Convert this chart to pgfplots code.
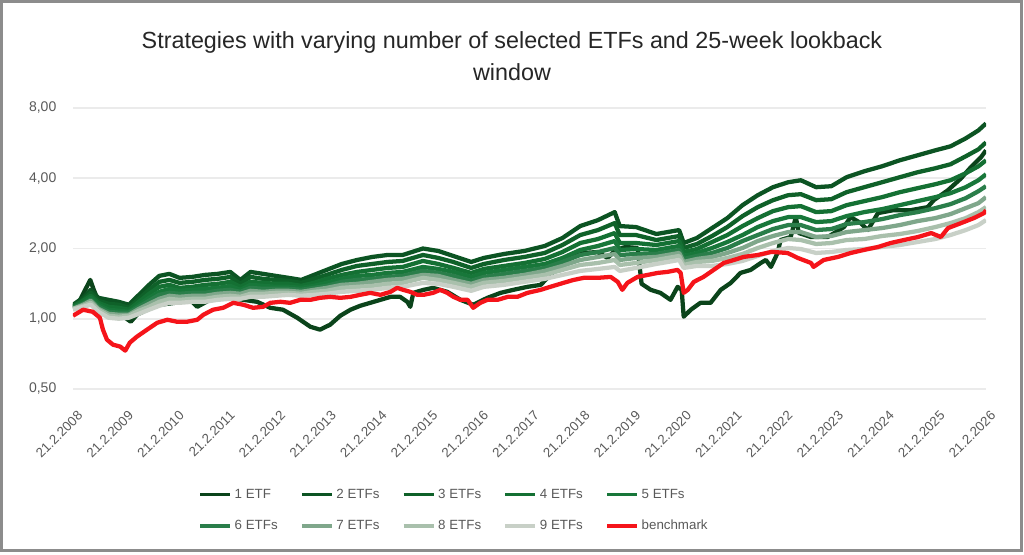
\documentclass[border=0pt]{standalone}
\usepackage{pgfplots}
\pgfplotsset{compat=1.18}
\usepackage{pgfplotstable}
\usepackage{fontspec}
\setmainfont{Liberation Sans}

\definecolor{etfA}{HTML}{0B441B}
\definecolor{etfB}{HTML}{0C5423}
\definecolor{etfC}{HTML}{0F6129}
\definecolor{etfD}{HTML}{147033}
\definecolor{etfE}{HTML}{18773A}
\definecolor{etfF}{HTML}{2A7E4A}
\definecolor{etfG}{HTML}{7FA78B}
\definecolor{etfH}{HTML}{A9C0AC}
\definecolor{etfI}{HTML}{C8D0C7}
\definecolor{bench}{HTML}{F5141A}
\definecolor{txt}{HTML}{595959}
\definecolor{ttl}{HTML}{262626}
\definecolor{gridc}{HTML}{EBEBEB}
\definecolor{frame}{HTML}{8C8C8C}

% benchmark, years since 21.2.2008
\pgfplotstableread{
t v
0 1.030
0.2 1.093
0.39 1.071
0.53 1.010
0.59 0.898
0.67 0.813
0.79 0.774
0.93 0.760
1.03 0.730
1.12 0.790
1.26 0.838
1.46 0.898
1.66 0.961
1.86 0.990
2.05 0.971
2.25 0.971
2.45 0.990
2.57 1.040
2.76 1.093
2.96 1.114
3.16 1.170
3.36 1.148
3.55 1.114
3.75 1.125
3.89 1.170
4.09 1.182
4.28 1.170
4.48 1.205
4.68 1.205
4.87 1.229
5.07 1.241
5.27 1.229
5.47 1.241
5.66 1.266
5.86 1.291
6.06 1.266
6.26 1.304
6.39 1.356
6.51 1.330
6.65 1.304
6.79 1.266
6.91 1.266
7.10 1.291
7.24 1.330
7.38 1.291
7.50 1.241
7.64 1.205
7.78 1.205
7.89 1.114
8.03 1.170
8.17 1.205
8.37 1.205
8.57 1.241
8.76 1.241
8.96 1.291
9.22 1.330
9.41 1.370
9.67 1.425
9.87 1.467
10.07 1.497
10.34 1.497
10.60 1.511
10.74 1.439
10.83 1.330
10.93 1.425
11.13 1.511
11.33 1.541
11.53 1.572
11.72 1.588
11.92 1.619
11.98 1.572
12.04 1.291
12.12 1.330
12.24 1.439
12.43 1.511
12.63 1.619
12.83 1.734
13.03 1.786
13.22 1.840
13.50 1.876
13.76 1.932
13.81 1.932
14.09 1.913
14.29 1.822
14.55 1.734
14.60 1.668
14.80 1.786
15.08 1.840
15.33 1.913
15.59 1.971
15.87 2.030
16.12 2.111
16.38 2.174
16.66 2.240
16.92 2.329
17.11 2.240
17.25 2.446
17.51 2.570
17.76 2.700
17.96 2.836
18.0 2.920
}\benchdata

% single-ETF strategy
\pgfplotstableread{
t v
0 1.125
0.14 1.205
0.26 1.356
0.34 1.467
0.41 1.330
0.49 1.205
0.59 1.114
0.73 1.148
0.87 1.071
1.03 1.010
1.14 0.971
1.26 1.040
1.46 1.093
1.72 1.148
2.01 1.170
2.31 1.205
2.45 1.125
2.70 1.205
3.00 1.241
3.36 1.205
3.63 1.182
3.89 1.114
4.14 1.093
4.42 1.010
4.68 0.924
4.87 0.898
5.07 0.943
5.27 1.030
5.47 1.093
5.66 1.136
5.86 1.170
6.06 1.205
6.26 1.241
6.45 1.241
6.59 1.182
6.65 1.125
6.71 1.291
6.91 1.330
7.10 1.356
7.38 1.304
7.64 1.205
7.89 1.148
8.17 1.229
8.43 1.291
8.68 1.330
8.96 1.370
9.22 1.397
9.51 1.619
9.81 1.822
10.07 1.913
10.34 1.932
10.54 1.822
10.70 1.971
10.89 2.030
11.13 2.010
11.21 1.411
11.39 1.330
11.58 1.291
11.78 1.205
11.92 1.370
12.00 1.330
12.04 1.020
12.18 1.093
12.37 1.170
12.57 1.170
12.77 1.330
12.97 1.425
13.16 1.572
13.36 1.619
13.56 1.734
13.66 1.786
13.76 1.668
13.89 1.913
13.95 2.174
14.15 2.240
14.25 2.726
14.31 2.329
14.55 2.240
14.88 2.240
15.20 2.471
15.33 2.726
15.53 2.570
15.67 2.399
15.87 2.836
16.18 2.920
16.52 2.920
16.85 3.008
16.97 3.222
17.25 3.555
17.51 4.000
17.70 4.457
17.90 4.917
18.0 5.268
}\oneetf

% strategies holding 2 to 9 ETFs
\pgfplotstableread{
t b c d e f g h i
0 1.148 1.136 1.125 1.114 1.114 1.103 1.103 1.093
0.2 1.229 1.205 1.194 1.170 1.159 1.148 1.136 1.125
0.35 1.330 1.291 1.254 1.229 1.205 1.194 1.170 1.148
0.5 1.229 1.194 1.170 1.148 1.125 1.103 1.093 1.071
0.7 1.205 1.159 1.125 1.093 1.071 1.050 1.030 1.010
0.9 1.182 1.148 1.114 1.082 1.061 1.040 1.020 1.000
1.1 1.148 1.114 1.093 1.071 1.061 1.040 1.030 1.010
1.3 1.266 1.217 1.182 1.148 1.125 1.103 1.082 1.050
1.5 1.397 1.330 1.279 1.229 1.194 1.159 1.125 1.093
1.7 1.526 1.439 1.370 1.304 1.266 1.217 1.182 1.136
1.9 1.557 1.467 1.397 1.343 1.291 1.254 1.217 1.170
2.1 1.497 1.425 1.356 1.317 1.279 1.242 1.205 1.170
2.35 1.511 1.439 1.370 1.330 1.291 1.254 1.217 1.182
2.6 1.541 1.467 1.397 1.343 1.291 1.254 1.217 1.182
2.85 1.557 1.482 1.411 1.356 1.317 1.279 1.242 1.205
3.1 1.587 1.511 1.439 1.383 1.330 1.291 1.254 1.217
3.3 1.467 1.411 1.370 1.330 1.304 1.279 1.242 1.217
3.5 1.587 1.511 1.439 1.397 1.356 1.317 1.279 1.242
3.75 1.557 1.482 1.425 1.383 1.343 1.304 1.279 1.242
4.0 1.526 1.467 1.411 1.370 1.343 1.317 1.291 1.254
4.25 1.497 1.453 1.411 1.370 1.343 1.317 1.291 1.266
4.5 1.467 1.425 1.383 1.356 1.330 1.304 1.279 1.254
4.75 1.541 1.482 1.425 1.383 1.356 1.330 1.304 1.266
5.0 1.619 1.541 1.482 1.425 1.383 1.356 1.317 1.279
5.3 1.717 1.619 1.541 1.482 1.439 1.397 1.356 1.304
5.6 1.786 1.684 1.587 1.526 1.467 1.411 1.370 1.317
5.9 1.840 1.717 1.619 1.541 1.482 1.439 1.383 1.330
6.2 1.876 1.751 1.651 1.572 1.511 1.467 1.411 1.356
6.5 1.876 1.769 1.667 1.587 1.526 1.482 1.425 1.370
6.9 2.000 1.876 1.769 1.667 1.603 1.541 1.497 1.425
7.2 1.952 1.822 1.717 1.635 1.572 1.526 1.467 1.411
7.5 1.858 1.751 1.651 1.587 1.526 1.467 1.425 1.370
7.85 1.751 1.651 1.572 1.511 1.453 1.411 1.370 1.317
8.1 1.822 1.717 1.635 1.572 1.511 1.467 1.425 1.370
8.5 1.895 1.786 1.684 1.619 1.557 1.497 1.453 1.397
8.9 1.952 1.840 1.734 1.667 1.603 1.541 1.497 1.439
9.3 2.050 1.914 1.804 1.717 1.651 1.603 1.541 1.482
9.65 2.218 2.070 1.932 1.822 1.751 1.684 1.619 1.541
10.0 2.495 2.284 2.111 1.971 1.876 1.786 1.700 1.603
10.35 2.647 2.399 2.196 2.050 1.932 1.840 1.734 1.635
10.68 2.864 2.570 2.329 2.153 2.010 1.895 1.786 1.667
10.78 2.495 2.284 2.111 1.971 1.876 1.786 1.700 1.603
11.1 2.471 2.284 2.111 1.990 1.895 1.822 1.734 1.651
11.5 2.307 2.174 2.070 1.971 1.895 1.840 1.786 1.717
11.95 2.399 2.262 2.153 2.050 1.971 1.914 1.858 1.786
12.04 2.111 2.010 1.932 1.858 1.804 1.751 1.700 1.651
12.3 2.218 2.091 1.990 1.914 1.858 1.804 1.751 1.684
12.6 2.447 2.262 2.132 2.010 1.914 1.840 1.769 1.684
12.9 2.699 2.471 2.284 2.132 2.010 1.914 1.822 1.717
13.2 3.067 2.753 2.495 2.284 2.153 2.010 1.895 1.769
13.5 3.384 3.008 2.699 2.471 2.284 2.153 2.010 1.858
13.8 3.662 3.222 2.892 2.621 2.423 2.262 2.111 1.952
14.1 3.846 3.384 3.008 2.726 2.520 2.352 2.196 2.010
14.35 3.922 3.418 3.038 2.726 2.520 2.352 2.174 1.990
14.65 3.662 3.222 2.864 2.595 2.399 2.239 2.091 1.914
14.95 3.698 3.254 2.892 2.621 2.423 2.262 2.111 1.932
15.25 4.040 3.486 3.067 2.753 2.545 2.352 2.174 1.971
15.6 4.285 3.662 3.191 2.864 2.595 2.399 2.196 1.990
15.95 4.501 3.846 3.319 2.949 2.673 2.447 2.262 2.030
16.3 4.775 4.040 3.486 3.067 2.780 2.520 2.307 2.070
16.65 5.015 4.243 3.626 3.191 2.864 2.621 2.376 2.132
17.0 5.268 4.414 3.771 3.319 2.978 2.699 2.471 2.196
17.3 5.480 4.591 3.922 3.452 3.098 2.808 2.570 2.284
17.6 5.928 4.966 4.202 3.662 3.286 2.978 2.699 2.399
17.85 6.413 5.320 4.501 3.922 3.520 3.128 2.864 2.520
18.0 6.870 5.699 4.775 4.161 3.698 3.319 3.008 2.647
}\multietf

\newcommand{\legname}[1]{\makebox[47pt][l]{#1}}

\begin{document}
\begin{tikzpicture}
% whole chart area: 768pt x 416.25pt
\path[use as bounding box] (0pt,0pt) rectangle (768pt,416.25pt);
\draw[frame, line width=2.2pt] (1.1pt,3.6pt) rectangle (766.4pt,415.15pt);

\node[font=\fontsize{17.5}{23.5}\selectfont, text=ttl, align=center] at (384pt,374pt)
  {Strategies with varying number of selected ETFs and 25-week lookback\\window};

\begin{axis}[
  at={(54.75pt,124.5pt)}, anchor=south west,
  scale only axis, width=684.75pt, height=210.75pt,
  xmin=0, xmax=18,
  ymode=log, log basis y=2, ymin=0.5, ymax=8,
  axis line style={draw=none},
  major tick length=0pt,
  ytick={0.5,1,2,4,8},
  yticklabels={{0,50},{1,00},{2,00},{4,00},{8,00}},
  xtick={0,1,...,18},
  xticklabels={21.2.2008,21.2.2009,21.2.2010,21.2.2011,21.2.2012,21.2.2013,21.2.2014,21.2.2015,21.2.2016,21.2.2017,21.2.2018,21.2.2019,21.2.2020,21.2.2021,21.2.2022,21.2.2023,21.2.2024,21.2.2025,21.2.2026},
  /pgf/number format/assume math mode=true,
  tick label style={font=\fontsize{10.5}{12}\selectfont, text=txt},
  yticklabel style={anchor=east, xshift=-9pt},
  xticklabel style={rotate=45, anchor=north east, yshift=-12pt, xshift=-8pt, font=\fontsize{10}{11}\selectfont, inner sep=1pt},
  ymajorgrids, major grid style={draw=gridc, line width=1.2pt},
  every axis plot/.append style={line width=3.2pt, line join=round, mark=none},
  legend columns=5,
  legend style={at={(axis description cs:0.137,-0.345)}, anchor=north west,
    draw=none, fill=none, font=\fontsize{10}{12}\selectfont, text=txt,
    row sep=11pt, column sep=0pt, inner sep=0pt},
  legend image code/.code={\draw[#1, line width=2.8pt] (0pt,0pt) -- (22.5pt,0pt);},
]
\addplot[etfA] table[x=t, y=v] {\oneetf};
\addlegendentry{\legname{1 ETF}}
\addplot[etfB] table[x=t, y=b] {\multietf};
\addlegendentry{\legname{2 ETFs}}
\addplot[etfC] table[x=t, y=c] {\multietf};
\addlegendentry{\legname{3 ETFs}}
\addplot[etfD] table[x=t, y=d] {\multietf};
\addlegendentry{\legname{4 ETFs}}
\addplot[etfE] table[x=t, y=e] {\multietf};
\addlegendentry{\legname{5 ETFs}}
\addplot[etfF] table[x=t, y=f] {\multietf};
\addlegendentry{\legname{6 ETFs}}
\addplot[etfG] table[x=t, y=g] {\multietf};
\addlegendentry{\legname{7 ETFs}}
\addplot[etfH] table[x=t, y=h] {\multietf};
\addlegendentry{\legname{8 ETFs}}
\addplot[etfI] table[x=t, y=i] {\multietf};
\addlegendentry{\legname{9 ETFs}}
\addplot[bench] table[x=t, y=v] {\benchdata};
\addlegendentry{\legname{benchmark}}
\end{axis}
\end{tikzpicture}
\end{document}
